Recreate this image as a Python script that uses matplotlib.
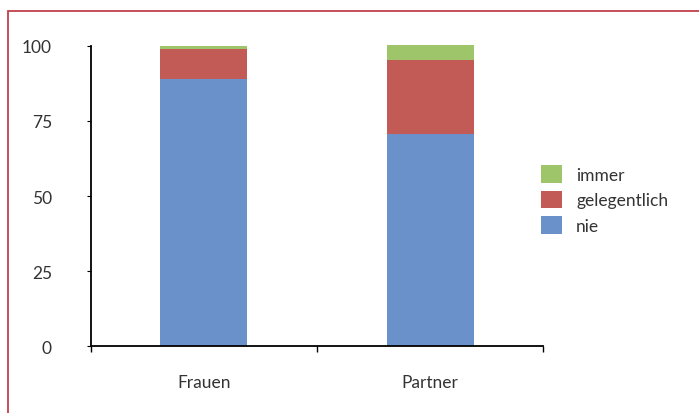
import matplotlib
matplotlib.use('Agg')

import matplotlib.pyplot as plt
from matplotlib.patches import Rectangle
import numpy as np

#--data--#
categories = ['Frauen', 'Partner']
nie = [89, 70.7]
gelegentlich = [10, 24.7]
immer = [1, 5.0]
yticks = [0, 25, 50, 75, 100]

plt.rcParams['font.family'] = ['Lato', 'DejaVu Sans']

fig = plt.figure(figsize=(6.99, 4.14), dpi=100)
ax = fig.add_axes([0.130, 0.1618, 0.647, 0.7247])

x = np.arange(len(categories))
w = 0.385
b1 = ax.bar(x, nie, w, color='#6b91cb', label='nie')
b2 = ax.bar(x, gelegentlich, w, bottom=nie, color='#c25b56', label='gelegentlich')
bottom2 = np.array(nie) + np.array(gelegentlich)
b3 = ax.bar(x, immer, w, bottom=bottom2, color='#9fc56b', label='immer', clip_on=False)

ax.set_xlim(-0.5, 1.5)
ax.set_ylim(0, 100)
ax.set_yticks(yticks)
ax.set_xticks(x)
ax.set_xticklabels(categories)
ax.set_xticks([-0.5, 0.5, 1.5], minor=True)
ax.tick_params(axis='x', which='major', length=0, pad=20, labelsize=12.5, colors='#333333')
ax.tick_params(axis='x', which='minor', length=4, direction='out', width=1)
ax.tick_params(axis='y', length=3, direction='out', pad=25, labelsize=12.5, labelcolor='#333333')

for s in ['top', 'right']:
    ax.spines[s].set_visible(False)
for s in ['left', 'bottom']:
    ax.spines[s].set_linewidth(1.3)
    ax.spines[s].set_color('black')
    ax.spines[s].set_zorder(3)

#--legend--#
leg = fig.legend(handles=[b3, b2, b1], labels=['immer', 'gelegentlich', 'nie'],
                 loc='upper left', bbox_to_anchor=(0.762, 0.62), frameon=False,
                 fontsize=12.5, handlelength=1.2, handleheight=1.2,
                 handletextpad=0.8, labelspacing=0.45, borderpad=0)
for t in leg.get_texts():
    t.set_color('#333333')

#--outer border--#
fig.patches.append(Rectangle((8 / 699, -0.05), 1.2, 1 - 12 / 414 + 0.05,
                             transform=fig.transFigure, fill=False,
                             edgecolor='#c0404a', linewidth=1.3))

plt.savefig('out.png', dpi=100)
